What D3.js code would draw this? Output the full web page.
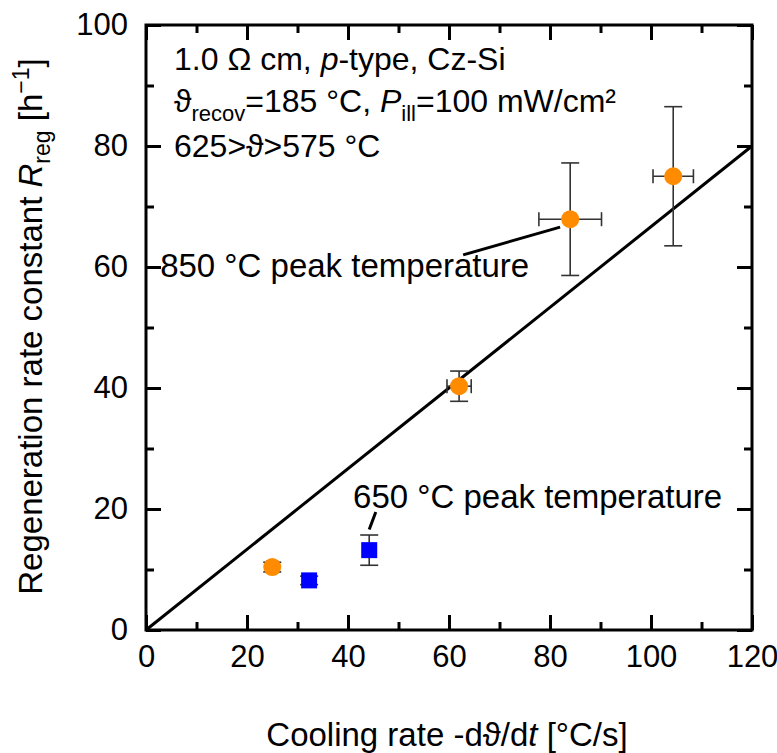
<!DOCTYPE html>
<html>
<head>
<meta charset="utf-8">
<script src="https://cdn.jsdelivr.net/npm/d3@7"></script>
<style>
  body { margin: 0; background: #fff; }
  text { font-family: "Liberation Sans", Arial, sans-serif; fill: #000; }
</style>
</head>
<body>
<svg width="777" height="753"></svg>
<script>
// 850 °C peak temperature (orange circles)
const x850 = [25, 62, 84, 104.4];
const y850 = [10.4, 40.3, 67.9, 75.0];
const xErr850 = [1.0, 2.4, 6.2, 4.0];
const yErr850 = [0.8, 2.5, 9.3, 11.5];

// 650 °C peak temperature (blue squares)
const x650 = [32.3, 44.2];
const y650 = [8.2, 13.2];
const xErr650 = [0.6, 0.6];
const yErr650 = [0.7, 2.5];

// linear fit
const fitX = [0, 120];
const fitY = [0, 80];

const xTicks = [0, 20, 40, 60, 80, 100, 120];
const yTicks = [0, 20, 40, 60, 80, 100];

const svg = d3.select('svg');
const MARGIN = { TOP: 25, RIGHT: 25, BOTTOM: 123, LEFT: 146 };
const WIDTH = +svg.attr('width') - MARGIN.LEFT - MARGIN.RIGHT;
const HEIGHT = +svg.attr('height') - MARGIN.TOP - MARGIN.BOTTOM;

const g = svg.append('g')
  .attr('transform', `translate(${MARGIN.LEFT}, ${MARGIN.TOP})`);

const x = d3.scaleLinear().domain([0, 120]).range([0, WIDTH]);
const y = d3.scaleLinear().domain([0, 100]).range([HEIGHT, 0]);

// ticks (inward, major + minor on all sides)
const minorX = d3.range(10, 120, 20);
const minorY = d3.range(10, 100, 20);
function styleAxis(sel) {
  sel.select('.domain').remove();
  sel.selectAll('line').attr('stroke', '#000').attr('stroke-width', 3);
  sel.selectAll('text').style('font-size', '31px').attr('fill', '#000');
}
g.append('g').attr('transform', `translate(0,${HEIGHT})`)
  .call(d3.axisBottom(x).tickValues(xTicks).tickSize(-15).tickPadding(15)).call(styleAxis);
g.append('g').attr('transform', `translate(0,${HEIGHT})`)
  .call(d3.axisBottom(x).tickValues(minorX).tickSize(-8).tickFormat('')).call(styleAxis);
g.append('g')
  .call(d3.axisTop(x).tickValues(xTicks).tickSize(-15).tickFormat('')).call(styleAxis);
g.append('g')
  .call(d3.axisTop(x).tickValues(minorX).tickSize(-8).tickFormat('')).call(styleAxis);
g.append('g')
  .call(d3.axisLeft(y).tickValues(yTicks).tickSize(-15).tickPadding(18)).call(styleAxis);
g.append('g')
  .call(d3.axisLeft(y).tickValues(minorY).tickSize(-8).tickFormat('')).call(styleAxis);
g.append('g').attr('transform', `translate(${WIDTH},0)`)
  .call(d3.axisRight(y).tickValues(yTicks).tickSize(-15).tickFormat('')).call(styleAxis);
g.append('g').attr('transform', `translate(${WIDTH},0)`)
  .call(d3.axisRight(y).tickValues(minorY).tickSize(-8).tickFormat('')).call(styleAxis);

// frame
g.append('rect')
  .attr('width', WIDTH).attr('height', HEIGHT)
  .attr('fill', 'none').attr('stroke', '#000').attr('stroke-width', 3);

// fit line
g.append('line')
  .attr('x1', x(fitX[0])).attr('y1', y(fitY[0]))
  .attr('x2', x(fitX[1])).attr('y2', y(fitY[1]))
  .attr('stroke', '#000').attr('stroke-width', 3);

// error bars
function errorBars(xs, ys, xe, ye) {
  const eb = g.append('g').attr('stroke', '#333').attr('stroke-width', 1.6);
  xs.forEach((xv, i) => {
    const cx = x(xv), cy = y(ys[i]);
    const y1 = y(ys[i] + ye[i]), y2 = y(ys[i] - ye[i]);
    const x1 = x(xv - xe[i]), x2 = x(xv + xe[i]);
    const c = 9;
    eb.append('line').attr('x1', cx).attr('x2', cx).attr('y1', y1).attr('y2', y2);
    eb.append('line').attr('x1', cx - c).attr('x2', cx + c).attr('y1', y1).attr('y2', y1);
    eb.append('line').attr('x1', cx - c).attr('x2', cx + c).attr('y1', y2).attr('y2', y2);
    eb.append('line').attr('x1', x1).attr('x2', x2).attr('y1', cy).attr('y2', cy);
    eb.append('line').attr('x1', x1).attr('x2', x1).attr('y1', cy - 7).attr('y2', cy + 7);
    eb.append('line').attr('x1', x2).attr('x2', x2).attr('y1', cy - 7).attr('y2', cy + 7);
  });
}
errorBars(x850, y850, xErr850, yErr850);
errorBars(x650, y650, xErr650, yErr650);

g.selectAll('.pt850')
  .data(x850)
  .enter()
  .append('circle')
  .attr('class', 'pt850')
  .attr('cx', d => x(d))
  .attr('cy', (d, i) => y(y850[i]))
  .attr('r', 9)
  .attr('fill', '#ff8c00');

g.selectAll('.pt650')
  .data(x650)
  .enter()
  .append('rect')
  .attr('class', 'pt650')
  .attr('x', d => x(d) - 8)
  .attr('y', (d, i) => y(y650[i]) - 8)
  .attr('width', 16)
  .attr('height', 16)
  .attr('fill', '#0000ff');

// annotations (data units)
const labels = [
  { text: '850 °C peak temperature', x: 2.8, y: 58.3, from: [62.8, 62.0], to: [82.0, 66.6] },
  { text: '650 °C peak temperature', x: 41.0, y: 20.2, from: [45.5, 19.5], to: [44.2, 16.6] }
];
labels.forEach(l => {
  g.append('text').attr('x', x(l.x)).attr('y', y(l.y))
    .style('font-size', '33px').text(l.text);
  g.append('line')
    .attr('x1', x(l.from[0])).attr('y1', y(l.from[1]))
    .attr('x2', x(l.to[0])).attr('y2', y(l.to[1]))
    .attr('stroke', '#000').attr('stroke-width', 3);
});

// info text
const info = g.append('g').style('font-size', '32px');
info.append('text').attr('x', 28).attr('y', 45)
  .call(t => {
    t.append('tspan').text('1.0 Ω cm, ');
    t.append('tspan').style('font-style', 'italic').text('p');
    t.append('tspan').text('-type, Cz-Si');
  });
info.append('text').attr('x', 28).attr('y', 87)
  .call(t => {
    t.append('tspan').text('ϑ');
    t.append('tspan').attr('dy', 9).style('font-size', '22px').text('recov');
    t.append('tspan').attr('dy', -9).text('=185 °C, ');
    t.append('tspan').style('font-style', 'italic').text('P');
    t.append('tspan').attr('dy', 9).style('font-size', '22px').text('ill');
    t.append('tspan').attr('dy', -9).text('=100 mW/cm²');
  });
info.append('text').attr('x', 28).attr('y', 132).text('625>ϑ>575 °C');

// axis titles
svg.append('text')
  .attr('x', MARGIN.LEFT + WIDTH / 2 - 2).attr('y', 746)
  .attr('text-anchor', 'middle').style('font-size', '33px')
  .call(t => {
    t.append('tspan').text('Cooling rate -dϑ/d');
    t.append('tspan').style('font-style', 'italic').text('t');
    t.append('tspan').text(' [°C/s]');
  });

svg.append('text')
  .attr('transform', `translate(42, ${MARGIN.TOP + HEIGHT / 2 - 1}) rotate(-90)`)
  .attr('text-anchor', 'middle').style('font-size', '33px')
  .call(t => {
    t.append('tspan').text('Regeneration rate constant ');
    t.append('tspan').style('font-style', 'italic').text('R');
    t.append('tspan').attr('dy', 8).style('font-size', '23px').text('reg');
    t.append('tspan').attr('dy', -8).text(' [h');
    t.append('tspan').attr('dy', -13).style('font-size', '23px').text('−1');
    t.append('tspan').attr('dy', 13).text(']');
  });
</script>
</body>
</html>
